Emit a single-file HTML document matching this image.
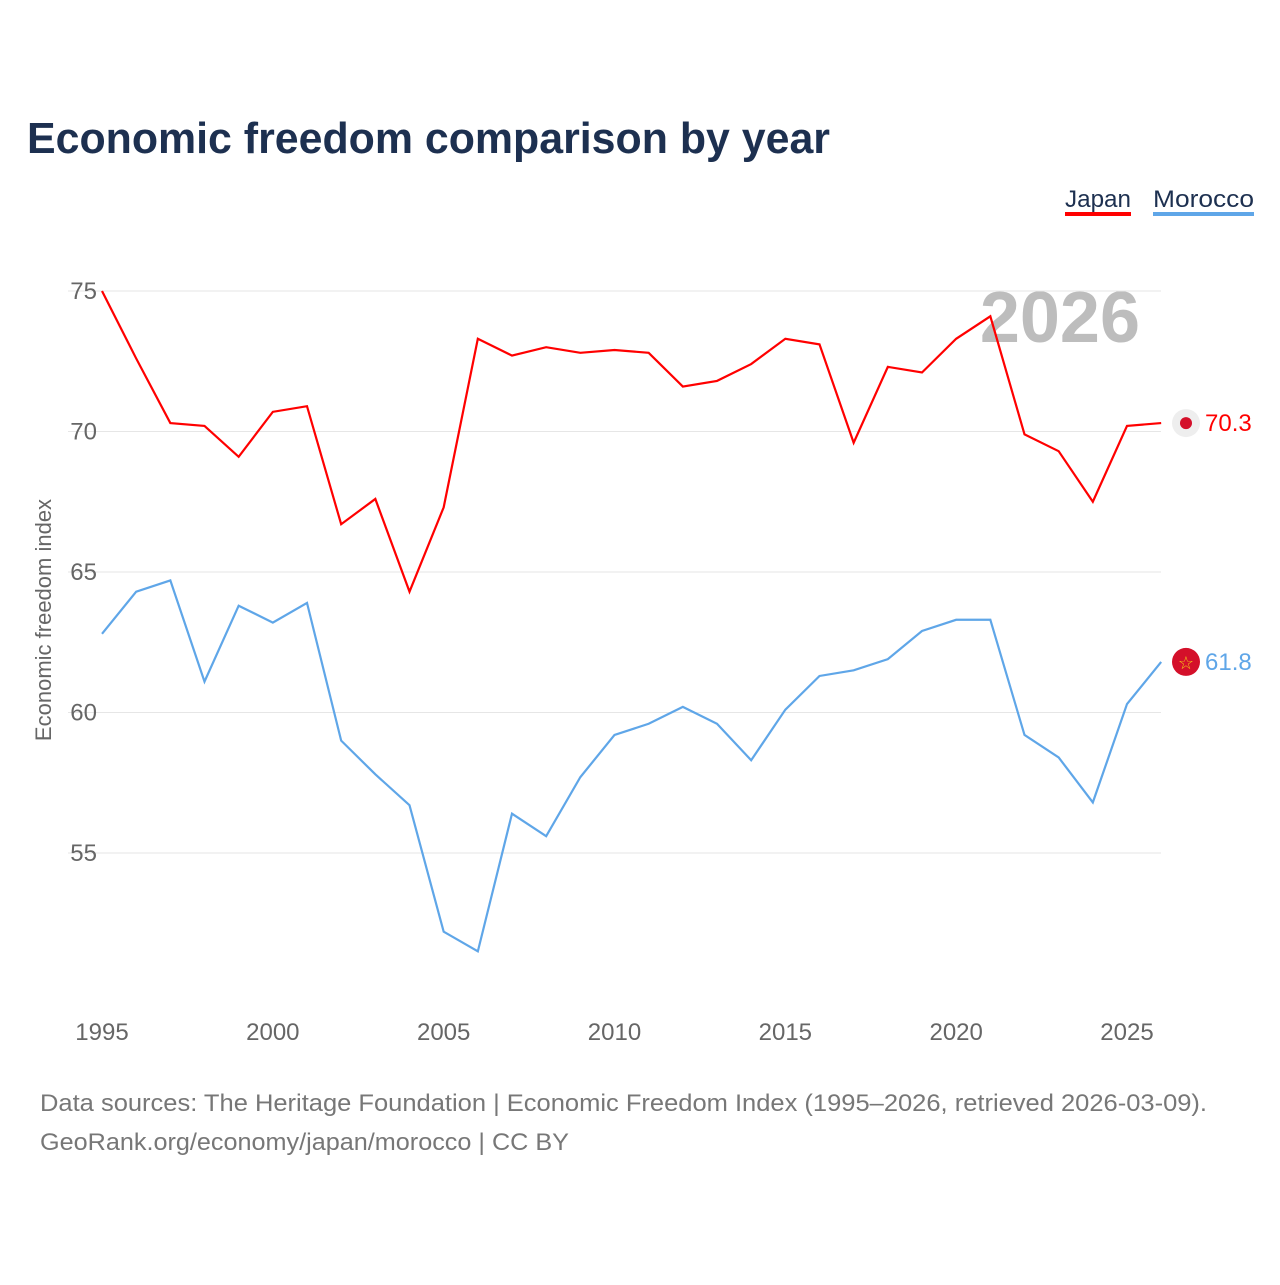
<!DOCTYPE html>
<html><head><meta charset="utf-8"><style>
body{margin:0;background:#fff;width:1280px;height:1280px;overflow:hidden;font-family:"Liberation Sans",sans-serif}
</style></head><body>
<svg width="1280" height="1280">
<text x="27" y="153" font-size="44" font-weight="bold" fill="#1d3050" textLength="803" lengthAdjust="spacingAndGlyphs">Economic freedom comparison by year</text>
<g><text x="1065" y="207" font-size="24" fill="#1d3050" textLength="66" lengthAdjust="spacingAndGlyphs">Japan</text><rect x="1065" y="212" width="66" height="4" fill="#ff0000"/></g>
<g><text x="1153" y="207" font-size="24" fill="#1d3050" textLength="101" lengthAdjust="spacingAndGlyphs">Morocco</text><rect x="1153" y="212" width="101" height="4" fill="#5fa6e8"/></g>
<text x="1140" y="342" font-size="72" font-weight="bold" fill="#bdbdbd" text-anchor="end">2026</text>
<g id="grid"></g><g id="series"></g>
<text transform="translate(51,620) rotate(-90)" font-size="22" fill="#666" text-anchor="middle">Economic freedom index</text>
<text x="40" y="1111" font-size="24" fill="#777" textLength="1167" lengthAdjust="spacingAndGlyphs">Data sources: The Heritage Foundation | Economic Freedom Index (1995–2026, retrieved 2026-03-09).</text>
<text x="40" y="1150" font-size="24" fill="#777" textLength="529" lengthAdjust="spacingAndGlyphs">GeoRank.org/economy/japan/morocco | CC BY</text>
</svg>
<script>
const years=[1995,1996,1997,1998,1999,2000,2001,2002,2003,2004,2005,2006,2007,2008,2009,2010,2011,2012,2013,2014,2015,2016,2017,2018,2019,2020,2021,2022,2023,2024,2025,2026];
const japan=[75.0,72.6,70.3,70.2,69.1,70.7,70.9,66.7,67.6,64.3,67.3,73.3,72.7,73.0,72.8,72.9,72.8,71.6,71.8,72.4,73.3,73.1,69.6,72.3,72.1,73.3,74.1,69.9,69.3,67.5,70.2,70.3];
const morocco=[62.8,64.3,64.7,61.1,63.8,63.2,63.9,59.0,57.8,56.7,52.2,51.5,56.4,55.6,57.7,59.2,59.6,60.2,59.6,58.3,60.1,61.3,61.5,61.9,62.9,63.3,63.3,59.2,58.4,56.8,60.3,61.8];
const yTicks=[55,60,65,70,75];
const xTicks=[1995,2000,2005,2010,2015,2020,2025];
const NS="http://www.w3.org/2000/svg";
const x=v=>102+(v-1995)*(1127-102)/30;
const y=v=>291+(75-v)*(853-291)/20;
function mk(t,a,p){const e=document.createElementNS(NS,t);for(const k in a)e.setAttribute(k,a[k]);p.appendChild(e);return e;}
const g=document.getElementById('grid');
yTicks.forEach(t=>{
 const l=mk('line',{x1:68,x2:1161,y1:y(t),y2:y(t),stroke:'#e6e6e6','stroke-width':1},g);
 
 
 const tx=mk('text',{x:97,y:y(t)+8,'font-size':24,fill:'#666','text-anchor':'end'},g);tx.textContent=t;
 
 
});
xTicks.forEach(t=>{
 const tx=mk('text',{x:x(t),y:1040,'font-size':24,fill:'#666','text-anchor':'middle'},g);tx.textContent=t;
 
 
});
const s=document.getElementById('series');
[[japan,'#ff0000','japan'],[morocco,'#5fa6e8','morocco']].forEach(([d,c,n])=>{
 const p=mk('polyline',{points:d.map((v,i)=>x(years[i])+','+y(v)).join(' '),fill:'none',stroke:c,'stroke-width':2.2},s);
 
 
 const last=d[d.length-1];
 const cy=y(last);
 const ic=mk('circle',{cx:1186,cy:cy,r:14,fill:n==='japan'?'#eeeeee':'#d4102a'},s);
 
 
 if(n==='japan'){mk('circle',{cx:1186,cy:cy,r:6,fill:'#d4102a'},s);}
 else{const st=mk('text',{x:1186,y:cy+7,'font-size':18,fill:'#f5c518','text-anchor':'middle'},s);st.textContent='☆';}
 const lb=mk('text',{x:1205,y:cy+8,'font-size':24,fill:c},s);lb.textContent=last.toFixed(1);
 
 
});
</script>
</body></html>
